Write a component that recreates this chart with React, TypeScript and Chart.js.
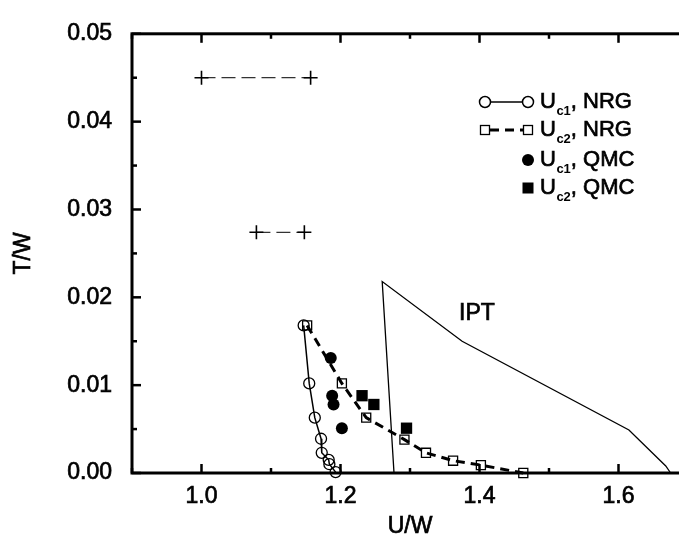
import { useEffect, useRef } from 'react';
import { Chart, registerables } from 'chart.js';

Chart.register(...registerables);

// ---- data (U/W, T/W) ----
const uc1NrgU = [1.147, 1.155, 1.163, 1.172, 1.173, 1.183, 1.184, 1.193];
const uc1NrgT = [0.0168, 0.0102, 0.0063, 0.0039, 0.0023, 0.0015, 0.0010, 0.0001];

const uc2NrgU = [1.152, 1.202, 1.237, 1.292, 1.323, 1.362, 1.402, 1.463];
const uc2NrgT = [0.0168, 0.0102, 0.0063, 0.0038, 0.0023, 0.0014, 0.0009, 0.0];

const uc1QmcU = [1.186, 1.188, 1.190, 1.202];
const uc1QmcT = [0.0131, 0.0088, 0.0078, 0.0051];

const uc2QmcU = [1.231, 1.248, 1.295];
const uc2QmcT = [0.0088, 0.0078, 0.0051];

const iptU = [1.277, 1.260, 1.375, 1.615, 1.668, 1.675];
const iptT = [0.0, 0.0218, 0.0150, 0.0049, 0.0008, 0.0];

const bar1U = [1.0, 1.157];
const bar1T = [0.045, 0.045];
const bar2U = [1.079, 1.148];
const bar2T = [0.0274, 0.0274];

const xTickLabels = ['1.0', '1.2', '1.4', '1.6'];
const yTickLabels = ['0.00', '0.01', '0.02', '0.03', '0.04', '0.05'];

const FONT = '"Liberation Sans", Arial, Helvetica, sans-serif';
const STROKE = 0.7;

const pts = (xs: number[], ys: number[]) => xs.map((x, i) => ({ x, y: ys[i] }));

const framePlugin = {
  id: 'frame',
  afterDatasetsDraw(chart: any) {
    const { ctx, chartArea, scales } = chart;
    const { left, right, top, bottom } = chartArea;
    const x = scales.x;
    const y = scales.y;
    ctx.save();
    ctx.strokeStyle = '#000';
    ctx.fillStyle = '#000';
    ctx.setLineDash([]);
    ctx.lineWidth = 3;
    ctx.strokeRect(left, top, right - left, bottom - top);
    const line = (x1: number, y1: number, x2: number, y2: number) => {
      ctx.beginPath();
      ctx.moveTo(x1, y1);
      ctx.lineTo(x2, y2);
      ctx.stroke();
    };
    ctx.lineWidth = 2.5;
    for (let i = 9; i <= 17; i++) {
      const px = x.getPixelForValue(i / 10);
      const len = i % 2 === 0 ? 9 : 5;
      line(px, bottom, px, bottom - len);
      line(px, top, px, top + len);
    }
    for (let i = 0; i <= 10; i++) {
      const py = y.getPixelForValue(i * 0.005);
      const len = i % 2 === 0 ? 9 : 5;
      line(left, py, left + len, py);
      line(right, py, right - len, py);
    }

    const text = (s: string, tx: number, ty: number, font: string, sw = STROKE) => {
      ctx.font = font;
      ctx.fillText(s, tx, ty);
      if (sw > 0) {
        ctx.lineWidth = sw;
        ctx.strokeText(s, tx, ty);
      }
    };

    // axis titles
    ctx.textAlign = 'center';
    ctx.textBaseline = 'middle';
    text('U/W', (left + right) / 2, 527, `23px ${FONT}`);
    ctx.save();
    ctx.translate(24, (top + bottom) / 2);
    ctx.rotate(-Math.PI / 2);
    text('T/W', 0, 0, `23px ${FONT}`);
    ctx.restore();

    // IPT label
    text('IPT', 477, 314, `23px ${FONT}`);

    // legend
    const rows = [102, 130, 160, 188];
    const x1 = 485;
    const x2 = 528;
    const tx = 540;
    // row 1
    ctx.lineWidth = 1.5;
    line(x1, rows[0], x2, rows[0]);
    [x1, x2].forEach((cx) => {
      ctx.beginPath();
      ctx.arc(cx, rows[0], 5.5, 0, Math.PI * 2);
      ctx.fillStyle = '#fff';
      ctx.fill();
      ctx.stroke();
    });
    // row 2
    ctx.lineWidth = 3;
    ctx.setLineDash([9, 6]);
    line(x1 + 5, rows[1], x2 - 5, rows[1]);
    ctx.setLineDash([]);
    ctx.lineWidth = 1.3;
    [x1, x2].forEach((cx) => {
      ctx.fillStyle = '#fff';
      ctx.fillRect(cx - 4.5, rows[1] - 4.5, 9, 9);
      ctx.strokeRect(cx - 4.5, rows[1] - 4.5, 9, 9);
    });
    ctx.fillStyle = '#000';
    // row 3
    ctx.beginPath();
    ctx.arc(x2, rows[2], 6, 0, Math.PI * 2);
    ctx.fill();
    // row 4
    ctx.fillRect(x2 - 5.5, rows[3] - 5.5, 11, 11);

    const entries: [string, string][] = [
      ['c1', ', NRG'],
      ['c2', ', NRG'],
      ['c1', ', QMC'],
      ['c2', ', QMC'],
    ];
    ctx.textAlign = 'left';
    entries.forEach(([sub, rest], i) => {
      const ry = rows[i];
      let cx = tx;
      text('U', cx, ry, `22px ${FONT}`);
      cx += ctx.measureText('U').width + 0.5;
      text(sub, cx, ry + 9, `bold 13px ${FONT}`, 0);
      cx += ctx.measureText(sub).width;
      text(rest, cx, ry, `22px ${FONT}`);
    });
    ctx.restore();
  },
};

export default function App() {
  const ref = useRef<HTMLCanvasElement | null>(null);
  useEffect(() => {
    if (!ref.current) return;
    const chart = new Chart(ref.current, {
      type: 'scatter',
      data: {
        datasets: [
          {
            label: 'IPT',
            data: pts(iptU, iptT),
            showLine: true,
            borderColor: '#000',
            borderWidth: 1.3,
            pointRadius: 0,
            clip: false,
          } as any,
          {
            label: 'bar1',
            data: pts(bar1U, bar1T),
            showLine: true,
            borderColor: '#333',
            borderWidth: 1.3,
            borderDash: [14, 6],
            pointStyle: 'cross',
            pointRadius: 7,
            pointBorderWidth: 1.6,
            pointBorderColor: '#000',
            clip: false,
          },
          {
            label: 'bar2',
            data: pts(bar2U, bar2T),
            showLine: true,
            borderColor: '#333',
            borderWidth: 1.3,
            borderDash: [14, 6],
            pointStyle: 'cross',
            pointRadius: 7,
            pointBorderWidth: 1.6,
            pointBorderColor: '#000',
            clip: false,
          },
          {
            label: 'Uc1, NRG',
            data: pts(uc1NrgU, uc1NrgT),
            showLine: true,
            borderColor: '#000',
            borderWidth: 1.5,
            pointStyle: 'circle',
            pointRadius: 5.5,
            pointBorderWidth: 1.3,
            pointBorderColor: '#000',
            pointBackgroundColor: 'rgba(0,0,0,0)',
            clip: false,
          },
          {
            label: 'Uc2, NRG',
            data: pts(uc2NrgU, uc2NrgT),
            showLine: true,
            borderColor: '#000',
            borderWidth: 3,
            borderDash: [9, 6],
            pointStyle: 'rect',
            pointRadius: 6.4,
            pointBorderWidth: 1.3,
            pointBorderColor: '#000',
            pointBackgroundColor: 'rgba(0,0,0,0)',
            clip: false,
          },
          {
            label: 'Uc1, QMC',
            data: pts(uc1QmcU, uc1QmcT),
            showLine: false,
            pointStyle: 'circle',
            pointRadius: 6,
            pointBorderWidth: 0,
            pointBackgroundColor: '#000',
            pointBorderColor: '#000',
            clip: false,
          },
          {
            label: 'Uc2, QMC',
            data: pts(uc2QmcU, uc2QmcT),
            showLine: false,
            pointStyle: 'rect',
            pointRadius: 8,
            pointBorderWidth: 0,
            pointBackgroundColor: '#000',
            pointBorderColor: '#000',
            clip: false,
          },
        ],
      },
      options: {
        animation: false,
        responsive: false,
        devicePixelRatio: 1,
        layout: { padding: { left: 0, right: 12, top: 15, bottom: 0 } },
        plugins: {
          legend: { display: false },
          tooltip: { enabled: false },
        },
        scales: {
          x: {
            type: 'linear',
            min: 0.9,
            max: 1.7,
            grid: { display: false, drawTicks: false },
            border: { display: false },
            afterFit: (s: any) => {
              s.height = 72;
            },
            ticks: {
              stepSize: 0.1,
              autoSkip: false,
              maxRotation: 0,
              padding: 10,
              color: '#000',
              textStrokeColor: '#000',
              textStrokeWidth: STROKE,
              font: { family: FONT, size: 23 },
              callback: (v: any) => {
                const s = (Math.round(Number(v) * 10) / 10).toFixed(1);
                return xTickLabels.includes(s) ? s : '';
              },
            },
          },
          y: {
            type: 'linear',
            min: 0,
            max: 0.05,
            grid: { display: false, drawTicks: false },
            border: { display: false },
            afterFit: (s: any) => {
              s.width = 132;
            },
            ticks: {
              stepSize: 0.01,
              padding: 20,
              color: '#000',
              textStrokeColor: '#000',
              textStrokeWidth: STROKE,
              font: { family: FONT, size: 23 },
              callback: (v: any) => {
                const s = (Math.round(Number(v) * 100) / 100).toFixed(2);
                return yTickLabels.includes(s) ? s : '';
              },
            },
          },
        },
      } as any,
      plugins: [framePlugin],
    });
    return () => chart.destroy();
  }, []);

  return (
    <div
      style={{
        position: 'fixed',
        left: 0,
        top: 0,
        width: 679,
        height: 545,
        overflow: 'hidden',
        background: '#fff',
      }}
    >
      <canvas ref={ref} width={700} height={545} style={{ display: 'block', width: 700, height: 545 }} />
    </div>
  );
}
